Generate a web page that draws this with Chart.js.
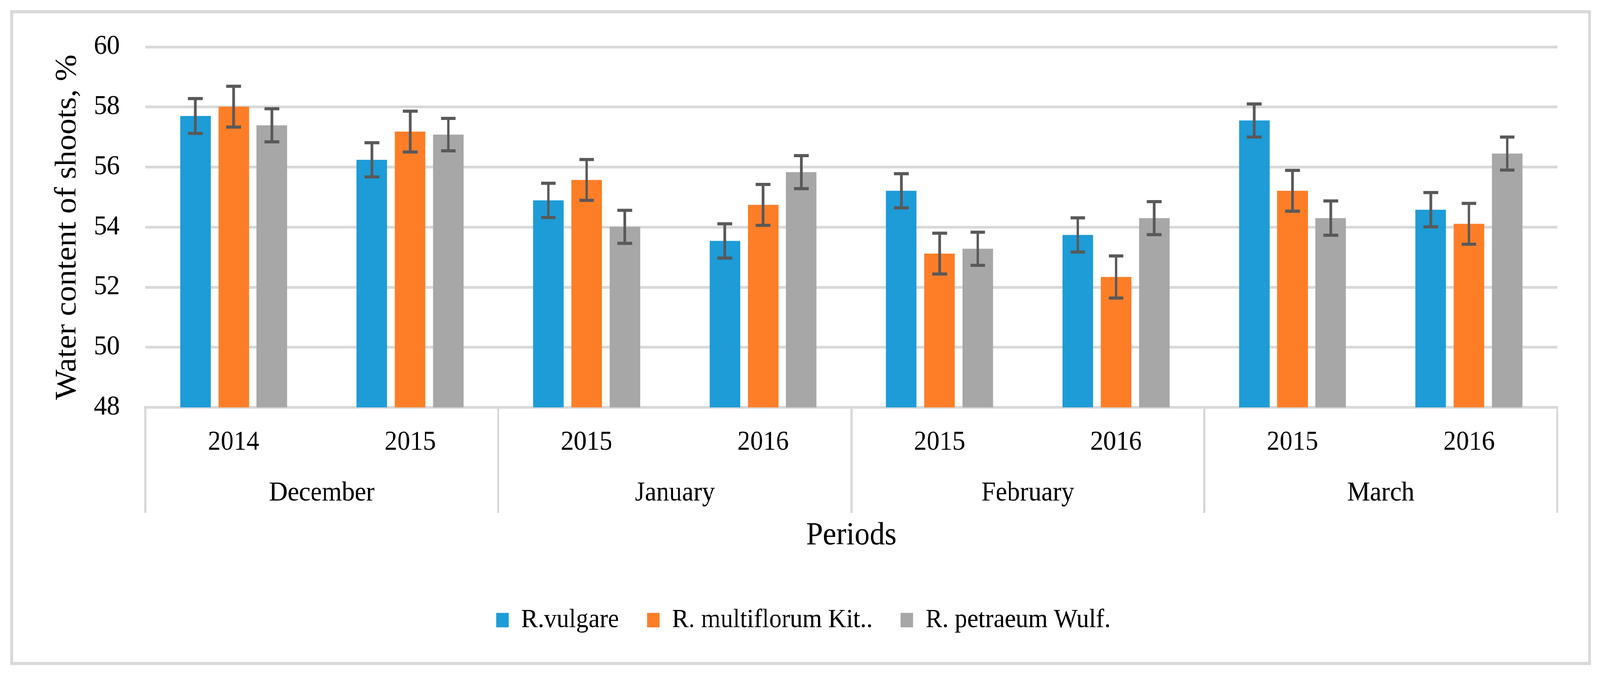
<!DOCTYPE html>
<html>
<head>
<meta charset="utf-8">
<script src="https://cdn.jsdelivr.net/npm/chart.js@4"></script>
<style>
  html, body { margin: 0; padding: 0; background: #ffffff; overflow: hidden; }
  #frame { position: absolute; left: 26px; top: 26px; width: 4285px; height: 1660px; border: 8px solid #d9d9d9; background: #fff; transform-origin: 0 0; }
  canvas { display: block; }
</style>
</head>
<body>
<div id="frame"><canvas id="c" width="4285" height="1660"></canvas></div>
<script>
const years = ['2014', '2015', '2015', '2016', '2015', '2016', '2015', '2016'];
const months = ['December', 'January', 'February', 'March'];
const seriesNames = ['R.vulgare', 'R. multiflorum Kit..', 'R. petraeum Wulf.'];
const vulgare = [57.70, 56.24, 54.89, 53.54, 55.21, 53.74, 57.55, 54.58];
const multiflorum = [58.01, 57.18, 55.57, 54.74, 53.12, 52.34, 55.21, 54.11];
const petraeum = [57.39, 57.08, 54.01, 55.83, 53.28, 54.30, 54.30, 56.45];
const errVulgare = [0.58, 0.57, 0.57, 0.57, 0.57, 0.57, 0.55, 0.57];
const errMultiflorum = [0.68, 0.68, 0.68, 0.68, 0.68, 0.70, 0.68, 0.68];
const errPetraeum = [0.55, 0.54, 0.55, 0.55, 0.55, 0.55, 0.57, 0.55];
const yTicks = [48, 50, 52, 54, 56, 58, 60];

// fit the 4353px-wide design into the actual viewport width
const frame = document.getElementById('frame');
frame.style.transform = 'scaleX(' + (Math.min(window.innerWidth, 4353) / 4353) + ')';

const FONT = '"Liberation Serif", "Times New Roman", serif';
const GRID = '#d9d9d9';

const errorBars = {
  id: 'errorBars',
  afterDatasetsDraw(chart) {
    const ctx = chart.ctx;
    const yScale = chart.scales.y;
    chart.data.datasets.forEach((ds, i) => {
      const meta = chart.getDatasetMeta(i);
      if (meta.hidden) return;
      meta.data.forEach((bar, j) => {
        const v = ds.data[j], e = ds.errors[j];
        const yt = yScale.getPixelForValue(v + e);
        const yb = yScale.getPixelForValue(v - e);
        ctx.save();
        ctx.strokeStyle = '#595959';
        ctx.lineWidth = 7;
        ctx.beginPath();
        ctx.moveTo(bar.x, yt);
        ctx.lineTo(bar.x, yb);
        ctx.stroke();
        ctx.lineWidth = 8;
        ctx.beginPath();
        ctx.moveTo(bar.x - 20, yt);
        ctx.lineTo(bar.x + 20, yt);
        ctx.moveTo(bar.x - 20, yb);
        ctx.lineTo(bar.x + 20, yb);
        ctx.stroke();
        ctx.restore();
      });
    });
  }
};

new Chart(document.getElementById('c'), {
  type: 'bar',
  data: {
    labels: years,
    datasets: [
      { label: seriesNames[0], data: vulgare, errors: errVulgare, backgroundColor: '#1d9cd8' },
      { label: seriesNames[1], data: multiflorum, errors: errMultiflorum, backgroundColor: '#fe7e27' },
      { label: seriesNames[2], data: petraeum, errors: errPetraeum, backgroundColor: '#a7a7a7' }
    ]
  },
  plugins: [errorBars],
  options: {
    responsive: false,
    animation: false,
    devicePixelRatio: 1,
    layout: { padding: { left: 99, right: 84, top: 86, bottom: 63 } },
    datasets: { bar: { categoryPercentage: 0.65, barPercentage: 0.8 } },
    plugins: {
      tooltip: { enabled: false },
      legend: {
        position: 'bottom',
        labels: {
          boxWidth: 34, boxHeight: 37, padding: 76,
          color: '#000', font: { family: FONT, size: 68 }
        }
      }
    },
    scales: {
      y: {
        min: 48, max: 60,
        afterBuildTicks: (s) => { s.ticks = yTicks.map(v => ({ value: v })); },
        afterFit: (s) => { s.width = 261; },
        grid: { color: GRID, lineWidth: 7, drawTicks: true, tickLength: 70, tickColor: 'rgba(0,0,0,0)' },
        border: { display: false },
        ticks: { color: '#000', padding: 0, font: { family: FONT, size: 70 } },
        title: {
          display: true, text: 'Water content of shoots, %', color: '#000',
          font: { family: FONT, size: 82 }, padding: { top: 0, bottom: 0 }
        }
      },
      x: {
        weight: 0,
        afterFit: (s) => { s.height = 132; },
        grid: {
          drawOnChartArea: false, offset: true, tickLength: 270, lineWidth: 6,
          color: (c) => (c.type !== 'tick' || c.index % 2 === 0) ? GRID : 'rgba(0,0,0,0)'
        },
        border: { display: true, color: GRID, width: 7 },
        ticks: { color: '#000', padding: -221.5, font: { family: FONT, size: 70 } }
      },
      x2: {
        type: 'category', labels: months, position: 'bottom', offset: true, weight: 1,
        afterFit: (s) => { s.height = 302.5; },
        grid: { display: false, drawTicks: false },
        border: { display: false },
        ticks: { color: '#000', padding: 46.5, font: { family: FONT, size: 70 } },
        title: {
          display: true, text: 'Periods', color: '#000',
          font: { family: FONT, size: 82 }, padding: { top: 0, bottom: 56 }
        }
      }
    }
  }
});
</script>
</body>
</html>
